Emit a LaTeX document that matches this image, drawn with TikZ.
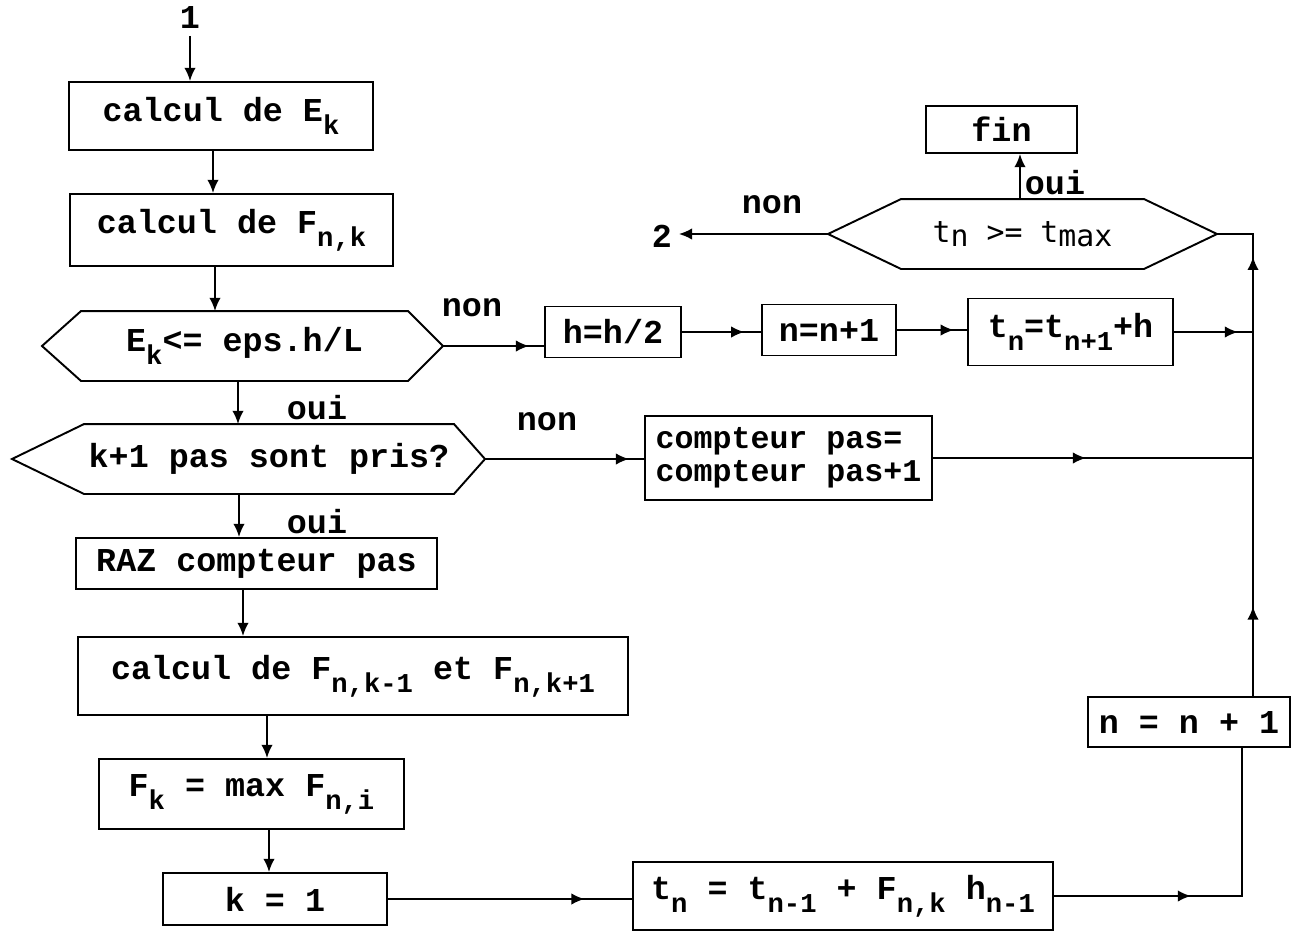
\documentclass[tikz,border=0pt]{standalone}
\usepackage{fontspec}
\setmainfont{Liberation Mono}
\newfontfamily\thinfont{DejaVu Sans Mono}
\usetikzlibrary{arrows.meta,calc,decorations.markings}
\newcommand\sub[1]{\raisebox{-7.5pt}{\fontsize{15.5}{15.5}\selectfont #1}}

\begin{document}
\begin{tikzpicture}[x=0.02cm,y=-0.02cm,line width=1.1pt,
  every node/.style={font=\fontsize{19}{21}\selectfont\bfseries},
  procbox/.style 2 args={draw,rectangle,inner sep=0pt,
    minimum width=#1*0.02cm,minimum height=#2*0.02cm},
  decbox/.style 2 args={procbox={#1}{#2},draw=none},
  flow/.style={-{Latex[length=7.5pt,width=6.5pt]}},
  tipat/.style={postaction={decorate},decoration={markings,
    mark=at position #1 with {\arrow{Latex[length=7.5pt,width=6.5pt]}}}}]
  \useasboundingbox (0,0) rectangle (1294,934);

  % left column
  \node (one) at (190,18) {1};
  \node[procbox={304}{68}] (A) at (221,116) {calcul de E\sub{k}};
  \node[procbox={323}{72}] (B) at (231.5,230) {calcul de F\sub{n,k}};
  \node[decbox={325}{68}] (dec1) at (244.5,346) {E\sub{k}<= eps.h/L};
  \coordinate (tl1) at (42,346);
  \coordinate (tr1) at (443,346);
  \node[decbox={368}{68}] (dec2) at (269,459) {k+1 pas sont pris?};
  \coordinate (tl2) at (12,459);
  \coordinate (tr2) at (485,459);
  \node[procbox={361}{51}] (C) at (256.5,563.5) {RAZ compteur pas};
  \node[procbox={550}{78}] (D) at (353,676) {calcul de F\sub{n,k-1} et F\sub{n,k+1}};
  \node[procbox={305}{70}] (E) at (251.5,794) {F\sub{k} = max F\sub{n,i}};
  \node[procbox={224}{52}] (F) at (275,899) {k = 1};

  % right part
  \node[procbox={420}{68}] (G) at (843,896) {t\sub{n} = t\sub{n-1} + F\sub{n,k} h\sub{n-1}};
  \node[procbox={202}{50}] (H) at (1189,722) {n = n + 1};
  \node[procbox={287}{84},align=left,font=\fontsize{18}{19}\selectfont\bfseries] (I)
    at (788.5,458) {compteur pas=\\compteur pas+1};
  \node[procbox={136}{51}] (J) at (613,332) {h=h/2};
  \node[procbox={134}{51}] (K) at (829,330) {n=n+1};
  \node[procbox={205}{67}] (L) at (1070.5,332) {t\sub{n}=t\sub{n+1}+h};
  \node[procbox={151}{47}] (fin) at (1001.5,129.5) {fin};
  \node[decbox={241}{68},font=\thinfont\fontsize{17}{19}\selectfont] (dec3)
    at (1022.5,234) {t\raisebox{-2pt}{n} >= t\raisebox{-2pt}{max}};
  \coordinate (tl3) at (828,234);
  \coordinate (tr3) at (1217,234);
  \coordinate (cr) at (1253,234);
  \node (two) at (662,236) {2};

  \foreach \d in {1,2,3}
    \draw (dec\d.north west) -- (dec\d.north east) -- (tr\d) -- (dec\d.south east)
      -- (dec\d.south west) -- (tl\d) -- cycle;

  % labels
  \node (non1) at (472,308) {non};
  \node (oui1) at (317,408) {oui};
  \node (non2) at (547,422) {non};
  \node (oui2) at (317,522) {oui};
  \node (non3) at (772,205) {non};
  \node (oui3) at (1055,183) {oui};

  \draw[flow] (one.south) -- (A.north -| one);
  \draw[flow] (A.south -| 213,0) -- (B.north -| 213,0);
  \draw[flow] (B.south -| 215,0) -- (dec1.north -| 215,0);
  \draw[flow] (dec1.south -| 238,0) -- (dec2.north -| 238,0);
  \draw[flow] (dec2.south -| 239,0) -- (C.north -| 239,0);
  \draw[flow] (C.south -| 243,0) -- (D.north -| 243,0);
  \draw[flow] (D.south -| 267,0) -- (E.north -| 267,0);
  \draw[flow] (E.south -| 269,0) -- (F.north -| 269,0);

  \draw[tipat=-8.5pt] (tr1) -- (tr1 -| J.west);
  \draw[tipat=-9.5pt] (J.east) -- (J.east -| K.west);
  \draw[tipat=-7.5pt] (K.east) -- (K.east -| L.west);
  \draw[tipat=-8.5pt] (L.east) -- (L.east -| cr);
  \draw[tipat=-8.5pt] (tr2) -- (tr2 -| I.west);
  \draw[tipat=-95pt] (I.east) -- (I.east -| cr);
  \draw[tipat=-27pt] (F.east) -- (F.east -| G.west);
  \draw[tipat=78pt] (G.east) -- (G.east -| 1242,0) -- (H.south -| 1242,0);
  \draw[postaction={decorate},decoration={markings,
      mark=at position 51pt with {\arrow{Latex[length=7.5pt,width=6.5pt]}},
      mark=at position 250pt with {\arrow{Latex[length=7.5pt,width=6.5pt]}}}]
    (H.north -| cr) -- (cr) -- (tr3);
  \draw[flow] (dec3.north -| 1020,0) -- (fin.south -| 1020,0);
  \draw[flow] (tl3) -- (tl3 -| two.east);
\end{tikzpicture}
\end{document}
